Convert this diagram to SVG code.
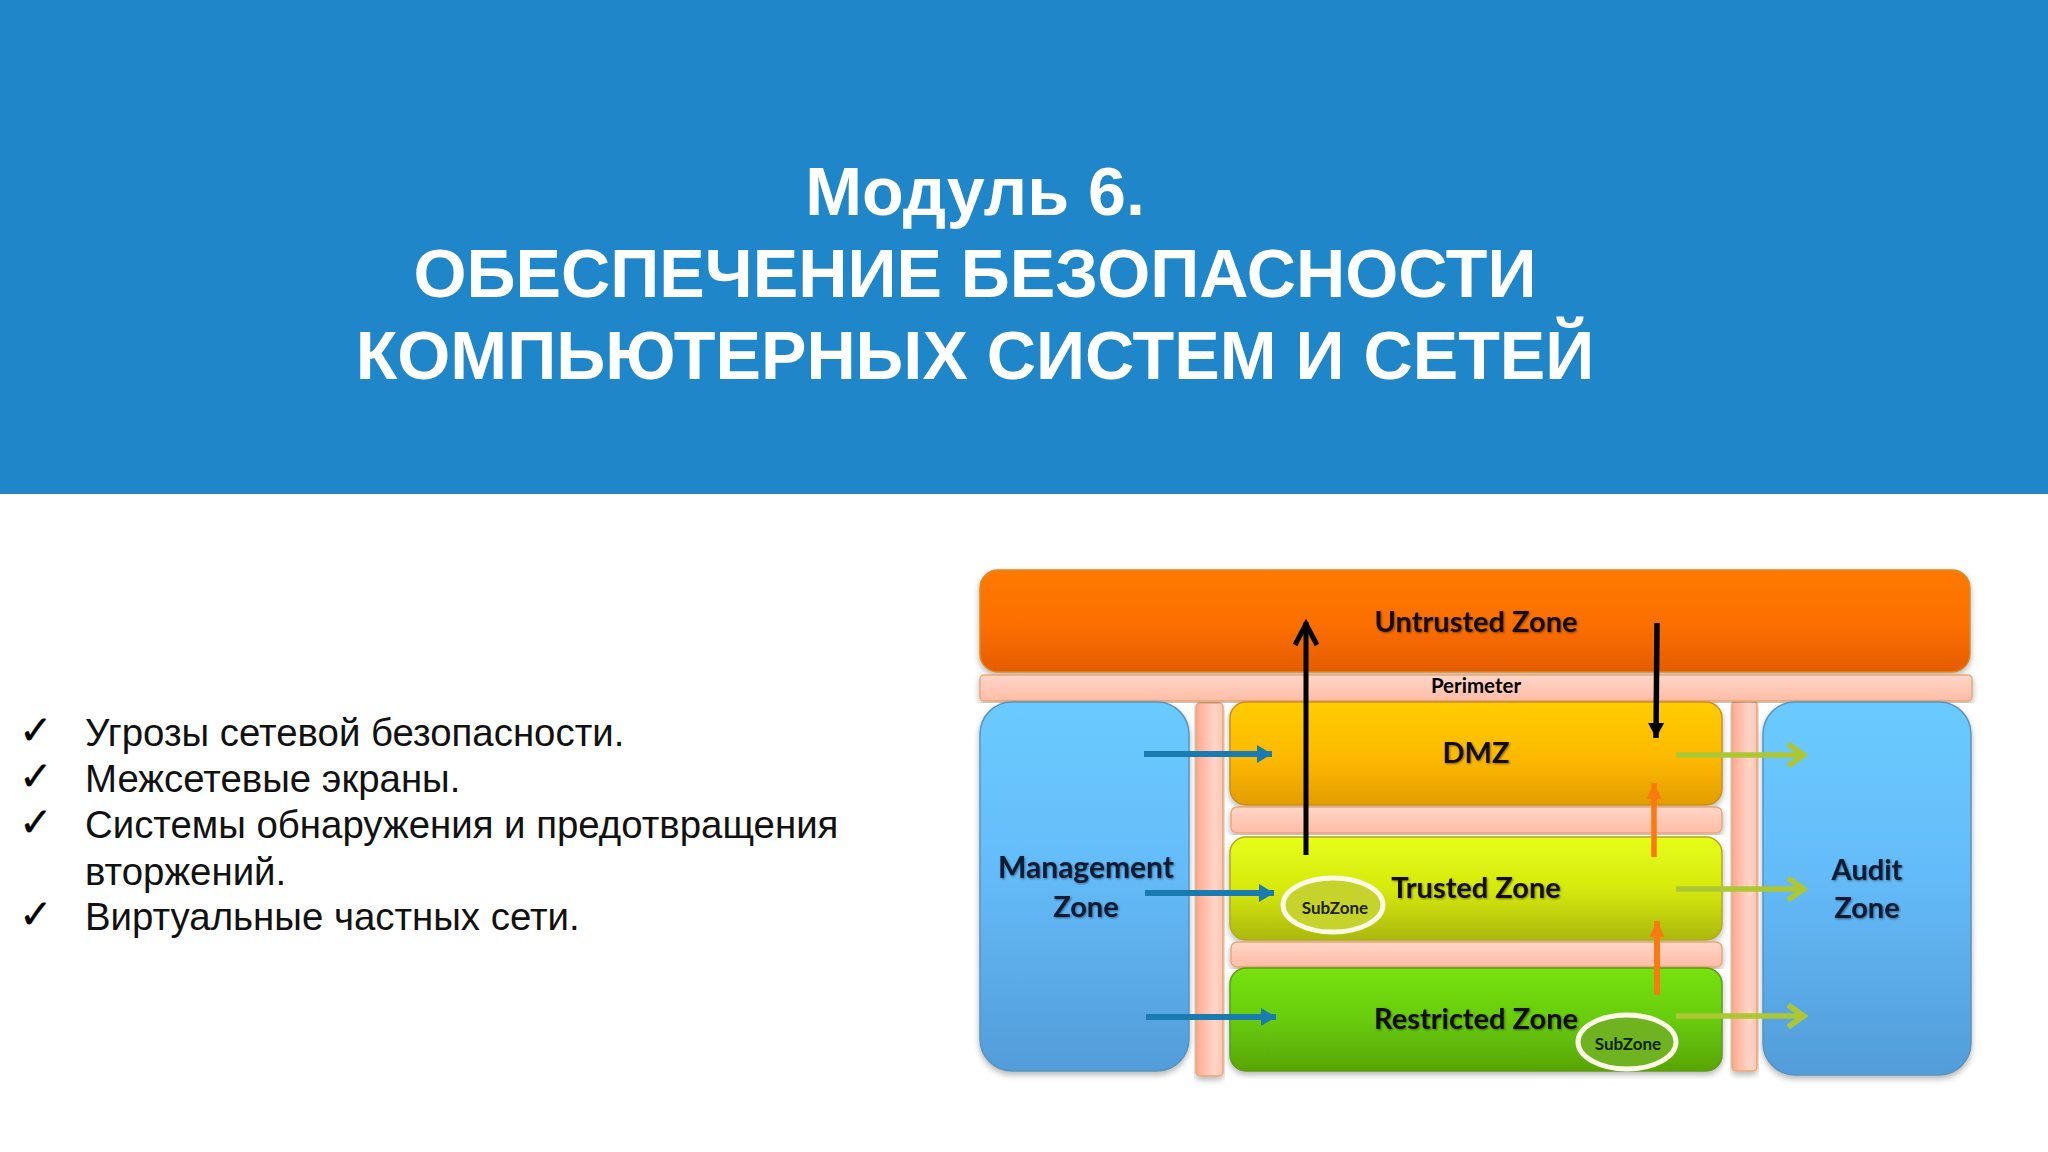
<svg xmlns="http://www.w3.org/2000/svg" width="2048" height="1152" viewBox="0 0 2048 1152">
<defs>
<linearGradient id="gO" x1="0" y1="0" x2="0" y2="1"><stop offset="0" stop-color="#ff7a05"/><stop offset=".55" stop-color="#fb6f04"/><stop offset="1" stop-color="#e55c05"/></linearGradient>
<linearGradient id="gY" x1="0" y1="0" x2="0" y2="1"><stop offset="0" stop-color="#ffcd06"/><stop offset=".55" stop-color="#fdb902"/><stop offset="1" stop-color="#e39d02"/></linearGradient>
<linearGradient id="gT" x1="0" y1="0" x2="0" y2="1"><stop offset="0" stop-color="#e6fd14"/><stop offset=".5" stop-color="#d6ea10"/><stop offset="1" stop-color="#abb80a"/></linearGradient>
<linearGradient id="gR" x1="0" y1="0" x2="0" y2="1"><stop offset="0" stop-color="#76e20a"/><stop offset=".5" stop-color="#68cc08"/><stop offset="1" stop-color="#58a506"/></linearGradient>
<linearGradient id="gB" x1="0" y1="0" x2="0" y2="1"><stop offset="0" stop-color="#6acbff"/><stop offset=".45" stop-color="#64bcf9"/><stop offset="1" stop-color="#529cd9"/></linearGradient>
<linearGradient id="gH" x1="0" y1="0" x2="0" y2="1"><stop offset="0" stop-color="#ffd6c8"/><stop offset="1" stop-color="#ffbca6"/></linearGradient>
<linearGradient id="gV" x1="0" y1="0" x2="1" y2="0"><stop offset="0" stop-color="#ffa98f"/><stop offset=".7" stop-color="#ffd6c8"/><stop offset="1" stop-color="#ffc4b0"/></linearGradient>
<filter id="sh" x="-5%" y="-5%" width="110%" height="112%"><feGaussianBlur in="SourceAlpha" stdDeviation="3"/><feOffset dy="3"/><feComponentTransfer><feFuncA type="linear" slope=".3"/></feComponentTransfer><feMerge><feMergeNode/><feMergeNode in="SourceGraphic"/></feMerge></filter>
<filter id="ts" x="-10%" y="-20%" width="120%" height="140%"><feGaussianBlur in="SourceAlpha" stdDeviation="1.2"/><feOffset dx="1" dy="1"/><feComponentTransfer><feFuncA type="linear" slope=".45"/></feComponentTransfer><feMerge><feMergeNode/><feMergeNode in="SourceGraphic"/></feMerge></filter>
<marker id="hBlue" markerUnits="userSpaceOnUse" markerWidth="20" markerHeight="22" refX="16" refY="11" orient="auto"><path d="M1 2L16 11L1 20Z" fill="#1a7bb0"/></marker>
<marker id="hGreen" markerUnits="userSpaceOnUse" markerWidth="26" markerHeight="30" refX="23" refY="15" orient="auto"><path d="M6 4L22 15L6 26" fill="none" stroke="#acc733" stroke-width="5.5"/></marker>
<marker id="hUp" markerUnits="userSpaceOnUse" markerWidth="30" markerHeight="30" refX="27" refY="14" orient="auto"><path d="M4 3L25 14L4 25" fill="none" stroke="#000" stroke-width="5"/></marker>
<marker id="hDown" markerUnits="userSpaceOnUse" markerWidth="20" markerHeight="20" refX="16" refY="10" orient="auto"><path d="M1 2L16 10L1 18Z" fill="#000"/></marker>
<marker id="hOrange" markerUnits="userSpaceOnUse" markerWidth="20" markerHeight="20" refX="17" refY="10" orient="auto"><path d="M1 2.5L17 10L1 17.5Z" fill="#f97a12"/></marker>
</defs>
<style>
.z{font-family:"Lato","Liberation Sans",sans-serif;font-weight:700;font-size:29px;text-anchor:middle;filter:url(#ts)}
.dk{fill:#0a1a33}
.bk{fill:#141005}
.m{font-size:30px}
.sub{font-family:"Lato","Liberation Sans",sans-serif;font-weight:700;font-size:17px;text-anchor:middle}
.per{font-size:20.5px}
.title{font-family:"Liberation Sans",Arial,sans-serif;font-weight:700;font-size:68.2px;fill:#fff;text-anchor:middle}
.body{font-family:"Liberation Sans",Arial,sans-serif;font-size:38.4px;fill:#111}
.chk{font-family:"DejaVu Sans",sans-serif;font-size:40px;fill:#000;stroke:#000;stroke-width:.4}
.bar{stroke:#e8a878;stroke-width:1.5;filter:url(#sh)}
.box{filter:url(#sh)}
.sz{stroke:#fbfbe8;stroke-width:5}
.cn{fill:none}
</style>
<rect id="header-band" x="0" y="0" width="2048" height="494" fill="#1f87c9"/>
<g id="title">
<text class="title" x="975" y="215">Модуль 6.</text>
<text class="title" x="975" y="297">ОБЕСПЕЧЕНИЕ БЕЗОПАСНОСТИ</text>
<text class="title" x="975" y="379">КОМПЬЮТЕРНЫХ СИСТЕМ И СЕТЕЙ</text>
</g>
<g id="bullets">
<text class="chk" x="19" y="744">✓</text><text class="body" x="85" y="746">Угрозы сетевой безопасности.</text>
<text class="chk" x="19" y="790">✓</text><text class="body" x="85" y="792">Межсетевые экраны.</text>
<text class="chk" x="19" y="836">✓</text><text class="body" x="85" y="838">Системы обнаружения и предотвращения</text>
<text class="body" x="85" y="885">вторжений.</text>
<text class="chk" x="19" y="928">✓</text><text class="body" x="85" y="930">Виртуальные частных сети.</text>
</g>
<g id="perimeter-left"><rect class="bar" x="1196" y="703" width="27" height="373" rx="4" fill="url(#gV)"/></g>
<g id="perimeter-right"><rect class="bar" x="1732" y="701" width="25" height="370" rx="4" fill="url(#gV)"/></g>
<g id="untrusted-zone"><rect class="box" x="980" y="570" width="990" height="102" rx="18" fill="url(#gO)" stroke="#d98a2a" stroke-width="1.5"/><text class="z bk" x="1476" y="632">Untrusted Zone</text></g>
<g id="perimeter"><rect class="bar" x="980" y="675" width="992" height="26" rx="4" fill="url(#gH)"/><text class="sub per" x="1476" y="693" fill="#000">Perimeter</text></g>
<g id="management-zone"><rect class="box" x="980" y="702" width="209" height="369" rx="32" fill="url(#gB)" stroke="#5a94bd" stroke-width="1.5"/><text class="z dk m" x="1086" y="878">Management</text><text class="z dk" x="1086" y="917">Zone</text></g>
<g id="audit-zone"><rect class="box" x="1763" y="702" width="208" height="373" rx="32" fill="url(#gB)" stroke="#5a94bd" stroke-width="1.5"/><text class="z dk" x="1867" y="880">Audit</text><text class="z dk" x="1867" y="918">Zone</text></g>
<g id="dmz"><rect class="box" x="1230" y="702" width="492" height="103" rx="16" fill="url(#gY)" stroke="#c98f1a" stroke-width="1.5"/><text class="z bk" x="1476" y="763">DMZ</text></g>
<g id="band-1"><rect class="bar" x="1231" y="807" width="491" height="26" rx="6" fill="url(#gH)"/></g>
<g id="trusted-zone"><rect class="box" x="1230" y="837" width="492" height="103" rx="16" fill="url(#gT)" stroke="#b3a81a" stroke-width="1.5"/><text class="z bk" x="1476" y="898">Trusted Zone</text></g>
<g id="subzone-1"><ellipse class="sz" cx="1333" cy="905" rx="50" ry="27" fill="#c6d32a"/><text class="sub" x="1335" y="914" fill="#1c2208">SubZone</text></g>
<g id="band-2"><rect class="bar" x="1231" y="942" width="491" height="25" rx="6" fill="url(#gH)"/></g>
<g id="restricted-zone"><rect class="box" x="1230" y="968" width="492" height="103" rx="16" fill="url(#gR)" stroke="#5f9a1a" stroke-width="1.5"/><text class="z bk" x="1476" y="1029">Restricted Zone</text></g>
<g id="subzone-2"><ellipse class="sz" cx="1627" cy="1042" rx="49" ry="27" fill="#6fb320"/><text class="sub" x="1628" y="1050" fill="#0e2408">SubZone</text></g>
<g id="connectors" class="cn">
<line x1="1306" y1="855" x2="1306" y2="622" stroke="#000" stroke-width="5" marker-end="url(#hUp)"/>
<line x1="1657" y1="623" x2="1656" y2="738" stroke="#000" stroke-width="5.5" marker-end="url(#hDown)"/>
<line x1="1144" y1="754" x2="1272" y2="754" stroke="#1a7bb0" stroke-width="6" marker-end="url(#hBlue)"/>
<line x1="1145" y1="893" x2="1274" y2="893" stroke="#1a7bb0" stroke-width="6" marker-end="url(#hBlue)"/>
<line x1="1146" y1="1017" x2="1276" y2="1017" stroke="#1a7bb0" stroke-width="6" marker-end="url(#hBlue)"/>
<line x1="1676" y1="755" x2="1805" y2="755" stroke="#acc733" stroke-width="5.5" marker-end="url(#hGreen)"/>
<line x1="1676" y1="889" x2="1805" y2="889" stroke="#acc733" stroke-width="5.5" marker-end="url(#hGreen)"/>
<line x1="1676" y1="1016" x2="1805" y2="1016" stroke="#acc733" stroke-width="5.5" marker-end="url(#hGreen)"/>
<line x1="1654" y1="857" x2="1654" y2="783" stroke="#f97a12" stroke-width="5.5" marker-end="url(#hOrange)"/>
<line x1="1657" y1="995" x2="1657" y2="921" stroke="#f97a12" stroke-width="6" marker-end="url(#hOrange)"/>
</g>
</svg>
